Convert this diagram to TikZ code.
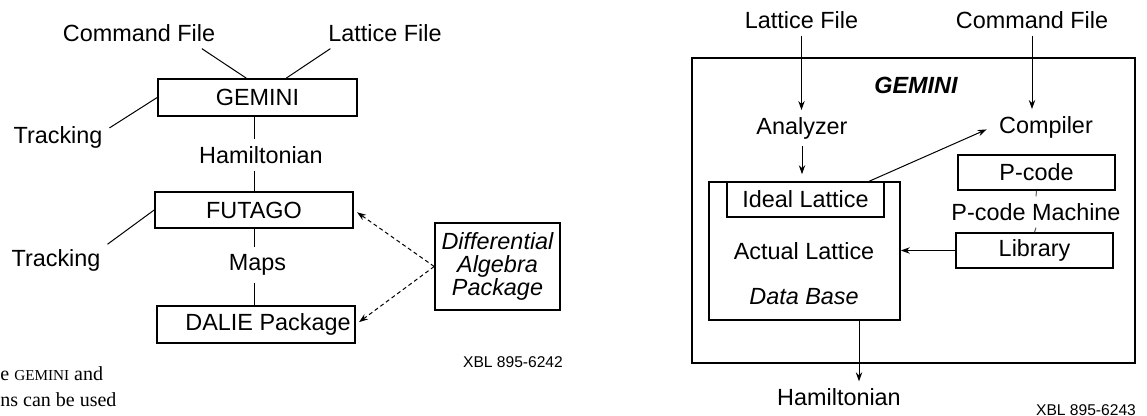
\documentclass[tikz,border=0pt]{standalone}
\usepackage{fontspec}
\setsansfont{Liberation Sans}
\newfontfamily\capfont{Liberation Serif}
\usepackage{tikz}
\usetikzlibrary{arrows.meta,calc,positioning}
\tikzset{>={Stealth[length=4.5pt,width=3.2pt]}}

\begin{document}
\begin{tikzpicture}[x=0.5pt,y=-0.5pt,font=\sffamily\fontsize{11.7}{11.5}\selectfont,
  box/.style={draw,line width=0.8pt,inner sep=0pt,minimum width=78.5pt,minimum height=17.5pt},
  con/.style={line width=0.5pt},
  xbl/.style={font=\sffamily\fontsize{7.8}{9}\selectfont},
  captxt/.style={inner sep=0pt,anchor=base west,font=\capfont\fontsize{10}{12}\selectfont}]
\useasboundingbox (0,0) rectangle (1147,416);

\node (cmdL) at (139,33) {Command File};
\node (latL) at (385,33) {Lattice File};
\node[box,minimum width=99.5pt,minimum height=18.5pt] (gemL) at (257.5,97.5) {GEMINI};
\node (trk1) at (58,137) {Tracking};
\node (hamL) at (261,155) {Hamiltonian};
\node[box,minimum width=99pt,minimum height=18pt] (futL) at (254,210) {FUTAGO};
\node (trk2) at (56,260) {Tracking};
\node (mapL) at (257.5,265) {Maps};
\node[box,minimum width=99pt,minimum height=18.5pt] (dalL) at (256,324.5) {\hspace{12pt}DALIE Package};
\node[box,minimum width=62.5pt,minimum height=43.5pt,align=center,font=\sffamily\itshape\fontsize{11.7}{11.5}\selectfont] (dapL) at (497.5,266.5) {Differential\\Algebra\\Package};
\node[xbl] (xblL) at (513,362) {XBL 895-6242};
\draw[con] (cmdL.-14) -- (gemL.120);
\draw[con] (latL.-164) -- (gemL.34);
\draw[con] (trk1.10) -- (gemL.west);
\draw[con] (trk2.17) -- (futL.west);
\draw[con] (futL.north |- gemL.south) -- (futL.north |- hamL.north);
\draw[con] (futL.north |- hamL.south) -- (futL.north);
\draw[con] (futL.south) -- (futL.south |- mapL.north);
\draw[con] (futL.south |- mapL.south) -- (futL.south |- dalL.north);
\draw[con,->,dashed,dash pattern=on 2pt off 1.5pt,shorten >=2pt] (dapL.west) -- (futL.east);
\draw[con,->,dashed,dash pattern=on 2pt off 1.5pt,shorten >=2pt] (dapL.west) -- (dalL.east);

\node[captxt] (capA) at (0,381) {e {\fontsize{7.6}{12}\selectfont GEMINI} and};
\node[captxt] (capB) at (0,407) {ns can be used};

\node (latR) at (801.5,20) {Lattice File};
\node (cmdR) at (1032,20) {Command File};
\node[box,minimum width=221.5pt,minimum height=152.5pt] (frmR) at (913.5,210.5) {};
\node[font=\sffamily\bfseries\itshape\fontsize{11.7}{14}\selectfont] (gemR) at (916,85) {GEMINI};
\node (anaR) at (802,128) {Analyzer};
\node (cmpR) at (1046,127) {Compiler};
\node[box,minimum width=95.5pt,minimum height=69pt] (dbR) at (804.5,251) {};
\node[box] (idlR) at (805.5,199.5) {Ideal Lattice};
\node (actR) at (804,251) {Actual Lattice};
\node[font=\sffamily\itshape\fontsize{11.7}{14}\selectfont] (dtbR) at (804,297) {Data Base};
\node[box] (pcR) at (1036.5,172.5) {P-code};
\node (pcmR) at (1036,212) {P-code Machine};
\node[box] (libR) at (1034.5,250.5) {Library};
\node (hamR) at (839,397) {Hamiltonian};
\node[xbl] (xblR) at (1086,410) {XBL 895-6243};
\coordinate (outR) at ($(dbR.south)+(54.5,0)$);
\draw[con,->] (latR.south) -- (latR.south |- anaR.north);
\draw[con,->,shorten >=3.5pt] (anaR.south) -- (anaR.south |- idlR.north);
\draw[con,->] (cmdR.south) -- (cmdR.south |- cmpR.north);
\draw[con,->,shorten >=3pt] (idlR.16) -- (cmpR.west);
\draw[con,black!65] (pcR.south) -- (pcmR.north);
\draw[con,black!65] (pcmR.south) -- (libR.north);
\draw[con,->] (libR.west) -- (libR.west -| dbR.east);
\draw[con,->] (outR) -- (outR |- hamR.north);
\end{tikzpicture}
\end{document}
